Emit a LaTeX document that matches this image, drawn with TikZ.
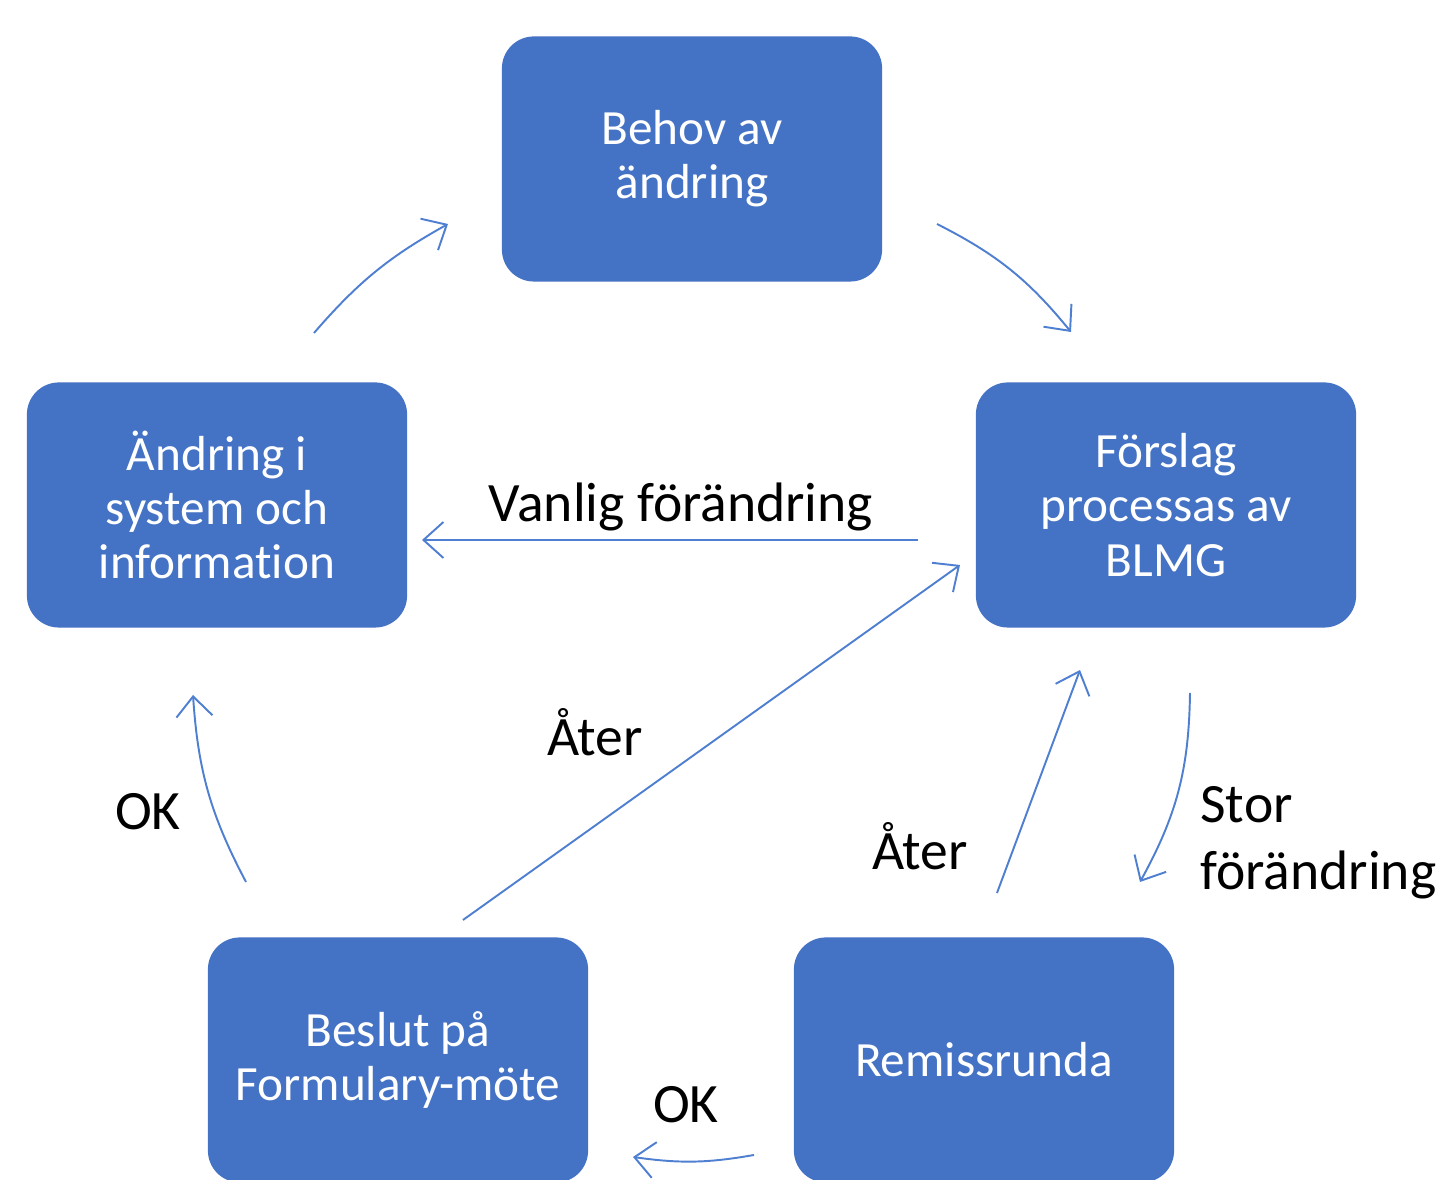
\documentclass[tikz,border=0pt]{standalone}
\usepackage{fontspec}
\setmainfont[Ligatures=NoCommon]{Carlito}
\usetikzlibrary{arrows.meta, positioning}

\definecolor{boxblue}{HTML}{4472C4}
\definecolor{linkblue}{HTML}{4F7FD0}

\tikzset{
    stepbox/.style={fill=boxblue, rounded corners=0.32cm, minimum width=3.8cm,
        minimum height=2.45cm, align=center, text=white,
        font=\fontsize{14pt}{15.4pt}\selectfont},
    link/.style={draw=linkblue, line width=0.55pt,
        -{Straight Barb[length=0.2cm, width=0.36cm, line width=0.55pt]}},
    lbl/.style={font=\fontsize{15.8pt}{19pt}\selectfont, align=left}
}

\begin{document}
\begin{tikzpicture}[x=0.01cm, y=-0.01cm]

\clip (0, 0) rectangle (1441, 1180);
\useasboundingbox (0, 0) rectangle (1441, 1180);

% the five steps
\node[stepbox] (behov) at (692, 159) {Behov av\\ändring};
\node[stepbox] (forslag) at (1166, 505) {Förslag\\processas av\\BLMG};
\node[stepbox] (andring) at (217, 505) {Ändring i\\system och\\information};
\node[stepbox] (beslut) at (398, 1060) {Beslut på\\Formulary-möte};
\node[stepbox] (remiss) at (984, 1060) {Remissrunda};

% arrow ends
\coordinate (b1) at (937, 224);
\coordinate (f1) at (1071, 332);
\coordinate (f2) at (918, 540);
\coordinate (a1) at (422, 540);
\coordinate (f3) at (1190, 693);
\coordinate (r1) at (1140, 882);
\coordinate (r2) at (997, 893);
\coordinate (f4) at (1080, 670);
\coordinate (r3) at (754, 1155);
\coordinate (s1) at (633, 1157);
\coordinate (s2) at (463, 920);
\coordinate (f5) at (960, 565);
\coordinate (s3) at (246, 882);
\coordinate (a2) at (193, 695);
\coordinate (a3) at (314, 333);
\coordinate (b2) at (448, 224);

\draw[link] (b1) to[bend left=12] (f1);
\draw[link] (f2) -- (a1);
\draw[link] (f3) to[bend left=14] (r1);
\draw[link] (r2) -- (f4);
\draw[link] (r3) to[bend left=9] (s1);
\draw[link] (s2) -- (f5);
\draw[link] (s3) to[bend left=12] (a2);
\draw[link] (a3) to[bend left=10] (b2);

% labels
\node[lbl] (vanlig) at (681, 507) {Vanlig förändring};
\node[lbl, anchor=west] (stor) at (1188, 843) {Stor\\förändring};
\node[lbl] (ater1) at (920, 846) {Åter};
\node[lbl] (ater2) at (595, 732) {Åter};
\node[lbl] (ok1) at (686, 1105) {OK};
\node[lbl] (ok2) at (148, 812) {OK};

\end{tikzpicture}
\end{document}
